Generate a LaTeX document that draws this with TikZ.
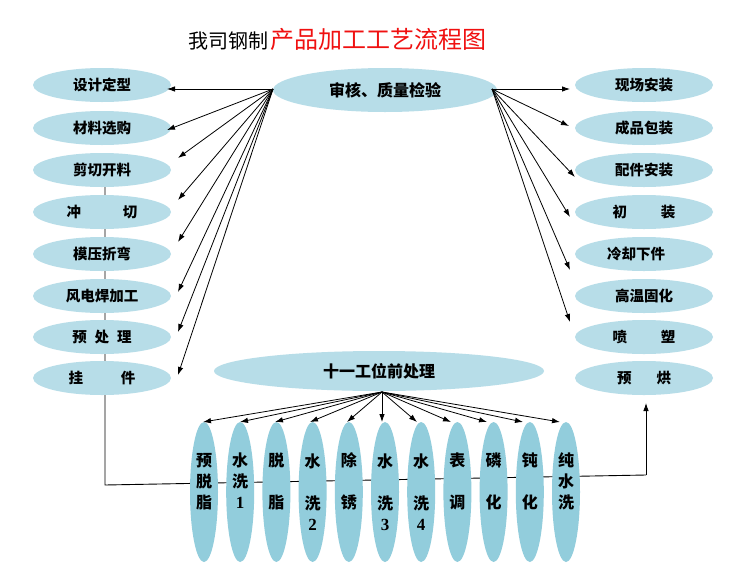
\documentclass[tikz,border=0pt]{standalone}
\usepackage{fontspec}
\newfontfamily\cjk{Noto Sans CJK SC}
\newfontfamily\numfont{Liberation Serif}
\usetikzlibrary{shapes.geometric,arrows.meta,backgrounds}
\definecolor{topblue}{HTML}{B7DDE8}
\definecolor{lowblue}{HTML}{92CDDC}
\definecolor{titlered}{HTML}{F01010}
\newcommand{\dg}[1]{{\numfont\bfseries\fontsize{17}{21}\selectfont #1}}
\begin{document}
\begin{tikzpicture}[x=1pt,y=-1pt,
  box/.style={ellipse, fill=topblue, minimum width=138pt, minimum height=34pt, inner sep=0pt,
    font=\cjk\bfseries\fontsize{14.5}{17}\selectfont},
  bigbox/.style={ellipse, fill=topblue, inner sep=0pt,
    font=\cjk\bfseries\fontsize{16}{19}\selectfont},
  stage/.style={ellipse, fill=lowblue, minimum width=28pt, minimum height=140pt, inner sep=0pt,
    align=center, font=\cjk\bfseries\fontsize{16}{21}\selectfont},
  arr/.style={-{Latex[length=8pt,width=5.5pt]}, line width=0.8pt, black},
  flow/.style={line width=0.9pt, black}
]
\useasboundingbox (0,0) rectangle (750,579);

% title
\node[anchor=base west, inner sep=0pt, font=\cjk\fontsize{20}{24}\selectfont] (t1) at (188,48) {我司钢制};
\node[anchor=base west, inner sep=0pt, text=titlered, font=\cjk\fontsize{24}{28}\selectfont] (t2) at ([xshift=2pt]t1.base east) {产品加工工艺流程图};

% central nodes
\node[bigbox, minimum width=224pt, minimum height=44pt] (Q) at (385,90) {审核、质量检验};
\node[bigbox, minimum width=330pt, minimum height=40pt] (M) at (379,371) {十一工位前处理};

% left column
\node[box] (L1) at (102,85) {设计定型};
\node[box] (L2) at (102,128) {材料选购};
\node[box] (L3) at (102,170) {剪切开料};
\node[box] (L4) at (102,212) {冲\hspace{42pt}切};
\node[box] (L5) at (102,254) {模压折弯};
\node[box] (L6) at (102,296) {风电焊加工};
\node[box] (L7) at (102,337) {预\hspace{8pt}处\hspace{8pt}理};
\node[box] (L8) at (102,378) {挂\hspace{38pt}件};

% right column
\node[box] (R1) at (644,85) {现场安装};
\node[box] (R2) at (644,128) {成品包装};
\node[box] (R3) at (644,170) {配件安装};
\node[box] (R4) at (644,212) {初\hspace{34pt}装};
\node[box] (R5) at (644,254) {\hspace{-16pt}冷却下件};
\node[box] (R6) at (644,296) {高温固化};
\node[box] (R7) at (644,337) {喷\hspace{34pt}塑};
\node[box] (R8) at (644,378) {预\hspace{25pt}烘};

% bottom stages
\node[stage] (B1) at (204.0,492) {预\\脱\\脂\\\phantom{水}};
\node[stage] (B2) at (240.2,492) {水\\洗\\\dg{1}\\\phantom{水}};
\node[stage] (B3) at (276.4,492) {脱\\\phantom{水}\\脂\\\phantom{水}};
\node[stage] (B4) at (312.6,492) {水\\\phantom{水}\\洗\\\dg{2}};
\node[stage] (B5) at (348.8,492) {除\\\phantom{水}\\锈\\\phantom{水}};
\node[stage] (B6) at (385.0,492) {水\\\phantom{水}\\洗\\\dg{3}};
\node[stage] (B7) at (421.2,492) {水\\\phantom{水}\\洗\\\dg{4}};
\node[stage] (B8) at (457.4,492) {表\\\phantom{水}\\调\\\phantom{水}};
\node[stage] (B9) at (493.6,492) {磷\\\phantom{水}\\化\\\phantom{水}};
\node[stage] (B10) at (529.8,492) {钝\\\phantom{水}\\化\\\phantom{水}};
\node[stage] (B11) at (566.0,492) {纯\\水\\洗\\\phantom{水}};

% coordinates
\coordinate (qL) at (273,89);
\coordinate (qR) at (492,89);
\coordinate (mS) at (382,392);
\coordinate (tl1) at (167,89);
\coordinate (tl2) at (167,130);
\coordinate (tl3) at (178,158);
\coordinate (tl4) at (178,200);
\coordinate (tl5) at (178,242);
\coordinate (tl6) at (178,292);
\coordinate (tl7) at (178,332);
\coordinate (tl8) at (178,375);
\coordinate (tr1) at (570,89);
\coordinate (tr2) at (569,126);
\coordinate (tr3) at (575,177);
\coordinate (tr4) at (570,217);
\coordinate (tr5) at (570,270);
\coordinate (tr6) at (570,322);
\coordinate (vtop) at (105,170);
\coordinate (c1) at (105,485);
\coordinate (c2) at (646,475);
\coordinate (tup) at (646,403);

% white page and flow line behind nodes
\begin{scope}[on background layer]
\fill[white] (0,0) rectangle (750,579);
\draw[flow] (vtop) -- (c1) -- (c2);
\end{scope}
\draw[arr] (c2) -- (tup);

% arrows from review node
\foreach \i in {1,...,8} { \draw[arr] (qL) -- (tl\i); }
\foreach \i in {1,...,6} { \draw[arr] (qR) -- (tr\i); }

% arrows from pretreatment node
\foreach \i/\x in {1/203,2/240,3/275,4/310,5/347,6/382,7/417,8/451,9/487,10/523,11/560} {
  \coordinate (tb\i) at (\x,422);
  \draw[arr] (mS) -- (tb\i);
}
\end{tikzpicture}
\end{document}
